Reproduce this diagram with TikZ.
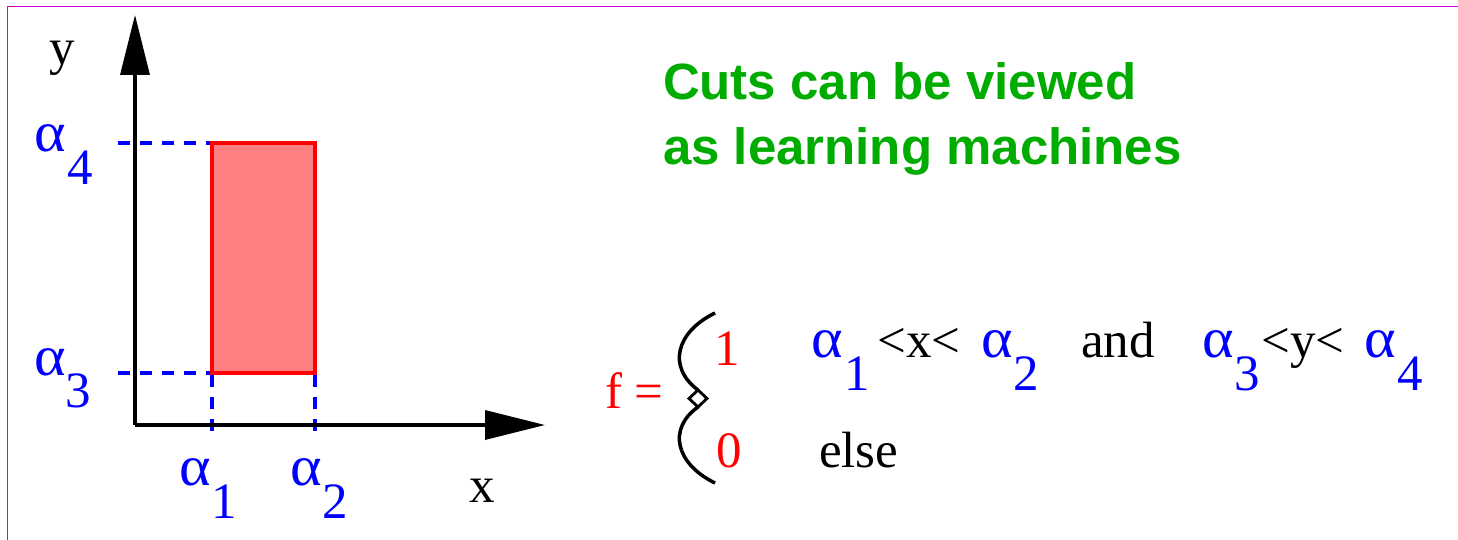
\documentclass[tikz,border=0pt]{standalone}
\usepackage{fontspec}
\usepackage{graphicx}
\setmainfont{Liberation Serif}
\newfontfamily\headfont{Liberation Sans}
\usetikzlibrary{arrows.meta}
\definecolor{framemag}{RGB}{210,0,210}
\definecolor{headgreen}{RGB}{0,172,0}
\definecolor{boxfill}{RGB}{255,128,128}
\newcommand{\myalpha}{\scalebox{1.18}[1.12]{α}}
\tikzset{
  lbl/.style={anchor=base west, inner sep=0pt, outer sep=0pt, font=\fontsize{51}{60}\selectfont},
  blbl/.style={lbl, text=blue},
  rlbl/.style={lbl, text=red},
  head/.style={anchor=base west, inner sep=0pt, outer sep=0pt, text=headgreen, font=\headfont\bfseries\fontsize{51}{60}\selectfont},
  axis/.style={line width=3.5pt, -{Triangle[length=60pt,width=29pt]}},
  guide/.style={blue, line width=3.5pt, dash pattern=on 12pt off 10pt},
  cutbox/.style={draw=red, fill=boxfill, line width=3.5pt, inner sep=0pt, outer sep=0pt, minimum width=103pt, minimum height=230pt},
  bracepen/.style={line width=3.5pt},
  frameline/.style={framemag, line width=1.8pt}
}
\begin{document}
\begin{tikzpicture}[x=1pt, y=-1pt]
\useasboundingbox (0,0) rectangle (1458,540);
% frame
\coordinate (fbl) at (7.5,542);
\coordinate (ftl) at (7.5,6.5);
\coordinate (ftr) at (1460,6.5);
\draw[frameline] (fbl) -- (ftl) -- (ftr);

% guide end points
\coordinate (d4) at (118,143);
\coordinate (d3) at (118,373);
\coordinate (d1) at (212,440);
\coordinate (d2) at (315,440);

% box
\node[cutbox, anchor=north west] (box) at (212,143) {};
\draw[guide, shorten >=1.75pt] (d4) -- (box.north west);
\draw[guide, shorten >=1.75pt] (d3) -- (box.south west);
\draw[guide, shorten <=1.75pt] (box.south west) -- (d1);
\draw[guide, shorten <=1.75pt] (box.south east) -- (d2);

% axes
\coordinate (O) at (135,425);
\coordinate (ytip) at (135,15);
\coordinate (xtip) at (545,425);
\draw[axis] (O) -- (ytip);
\draw[axis] (O) -- (xtip);

% axis labels
\node[lbl] (ylab) at (49,65) {y};
\node[lbl] (xlab) at (469,502) {x};

\node[blbl] (a4) at (34,152) {\myalpha};
\node[blbl] (a4s) at (67,185) {4};
\node[blbl] (a3) at (34,375) {\myalpha};
\node[blbl] (a3s) at (65,407) {3};
\node[blbl] (a1) at (179,485) {\myalpha};
\node[blbl] (a1s) at (211,518) {1};
\node[blbl] (a2) at (290,485) {\myalpha};
\node[blbl] (a2s) at (322.5,518) {2};

% heading
\node[head] (h1) at (663,100) {Cuts can be viewed};
\node[head] (h2) at (663,165) {as learning machines};

% formula
\node[rlbl] (f) at (605,408) {f =};
\coordinate (bt) at (715,313);
\coordinate (bb) at (715,483);
\coordinate (dt) at (698,390);
\coordinate (dr) at (707,398.5);
\coordinate (db) at (698,407);
\coordinate (dl) at (689,398.5);
\draw[bracepen] (bt) .. controls (676,332) and (667,367) .. (dt);
\draw[line width=2.8pt, line join=miter] (dt) -- (dr) -- (db) -- (dl) -- cycle;
\draw[bracepen] (db) .. controls (667,429) and (676,464) .. (bb);

\node[rlbl] (one) at (714,365) {1};
\node[rlbl] (zero) at (716,467) {0};

\node[blbl] (fa1) at (811,357) {\myalpha};
\node[blbl] (fa1s) at (844,390) {1};
\node[lbl] (ltx) at (877.5,357) {<x<};
\node[blbl] (fa2) at (981,357) {\myalpha};
\node[blbl] (fa2s) at (1013.5,390) {2};
\node[lbl] (and) at (1081,357) {and};
\node[blbl] (fa3) at (1202,357) {\myalpha};
\node[blbl] (fa3s) at (1234,390) {3};
\node[lbl] (lty) at (1261.5,357) {<y<};
\node[blbl] (fa4) at (1364,357) {\myalpha};
\node[blbl] (fa4s) at (1397,390) {4};
\node[lbl] (else) at (819,467) {else};
\end{tikzpicture}
\end{document}
